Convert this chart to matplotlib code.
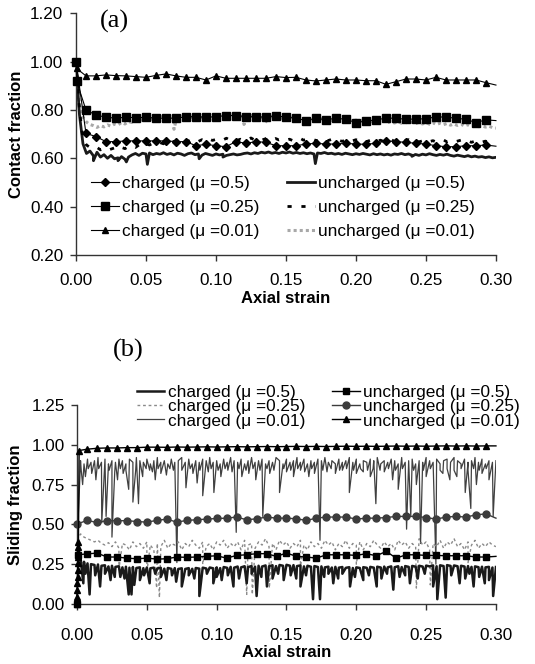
import numpy as np
import matplotlib
matplotlib.use("Agg")
import matplotlib.pyplot as plt

plt.rcParams['font.family'] = ['Liberation Sans', 'DejaVu Sans']

# strain grids
grid = np.linspace(0, 0.3, 121)        # noisy traces, step 0.0025
m_strain = np.linspace(0, 0.3, 43)     # marker traces, step ~0.00714

# ---------------- (a) contact fraction ----------------
a_ch05 = [1.00, 0.703, 0.690, 0.669, 0.669, 0.672, 0.672, 0.672, 0.672, 0.672, 0.669,
          0.669, 0.652, 0.658, 0.652, 0.648, 0.669, 0.662, 0.669, 0.666, 0.652, 0.652,
          0.652, 0.659, 0.662, 0.659, 0.659, 0.662, 0.659, 0.658, 0.662, 0.672, 0.669,
          0.666, 0.662, 0.659, 0.652, 0.648, 0.648, 0.652, 0.652, 0.655, 0.650]
a_ch025_start = [0.0, 0.0004]
a_ch025 = [1.00, 0.92, 0.800, 0.779, 0.770, 0.766, 0.770, 0.768, 0.770, 0.766, 0.766,
           0.766, 0.772, 0.772, 0.770, 0.772, 0.777, 0.777, 0.772, 0.772, 0.770, 0.777,
           0.770, 0.766, 0.756, 0.766, 0.759, 0.766, 0.761, 0.748, 0.754, 0.759, 0.766,
           0.766, 0.761, 0.763, 0.763, 0.772, 0.770, 0.766, 0.761, 0.748, 0.759, 0.756]
a_ch001 = [1.00, 0.972, 0.941, 0.941, 0.945, 0.942, 0.941, 0.938, 0.935, 0.943, 0.949,
           0.941, 0.935, 0.935, 0.924, 0.941, 0.931, 0.931, 0.931, 0.931, 0.931, 0.938,
           0.934, 0.935, 0.924, 0.920, 0.924, 0.928, 0.924, 0.924, 0.921, 0.921, 0.906,
           0.917, 0.928, 0.928, 0.924, 0.935, 0.924, 0.924, 0.924, 0.924, 0.913, 0.903]

a_unc05 = [1.00, 0.78, 0.66, 0.62, 0.63, 0.61, 0.625, 0.605, 0.615, 0.60,
           0.612, 0.598, 0.602, 0.607, 0.596, 0.605, 0.614, 0.62, 0.612, 0.621,
           0.618, 0.622, 0.615, 0.62, 0.617, 0.623, 0.616, 0.62, 0.614, 0.621,
           0.618, 0.612, 0.619, 0.622, 0.615, 0.618, 0.613, 0.62, 0.616, 0.612,
           0.618, 0.614, 0.617, 0.612, 0.615, 0.618, 0.614, 0.616, 0.62, 0.622,
           0.618, 0.623, 0.62, 0.625, 0.622, 0.626, 0.621, 0.624, 0.62, 0.625,
           0.622, 0.626, 0.621, 0.624, 0.62, 0.623, 0.619, 0.622, 0.618, 0.622,
           0.62, 0.624, 0.619, 0.621, 0.617, 0.62, 0.616, 0.621, 0.618, 0.615,
           0.619, 0.616, 0.62, 0.617, 0.614, 0.619, 0.615, 0.618, 0.614, 0.617,
           0.613, 0.618, 0.616, 0.62, 0.615, 0.618, 0.613, 0.616, 0.612, 0.617,
           0.614, 0.619, 0.615, 0.612, 0.616, 0.613, 0.617, 0.612, 0.609, 0.613,
           0.61, 0.607, 0.611, 0.606, 0.609, 0.605, 0.607, 0.603, 0.606, 0.602,
           0.604]
a_unc05_spikes = [(0.0125, 0.59), (0.03, 0.59), (0.036, 0.585), (0.051, 0.575),
                  (0.088, 0.598), (0.105, 0.605), (0.171, 0.578), (0.24, 0.608)]

a_unc025 = [1.00, 0.80, 0.68, 0.655, 0.645, 0.64, 0.645, 0.635, 0.64, 0.632,
            0.638, 0.643, 0.636, 0.645, 0.64, 0.648, 0.652, 0.645, 0.655, 0.65,
            0.66, 0.655, 0.662, 0.658, 0.665, 0.66, 0.668, 0.662, 0.67, 0.665,
            0.672, 0.667, 0.673, 0.668, 0.675, 0.67, 0.677, 0.671, 0.68, 0.674,
            0.678, 0.672, 0.676, 0.683, 0.675, 0.68, 0.674, 0.679, 0.673, 0.678,
            0.684, 0.676, 0.681, 0.675, 0.68, 0.686, 0.677, 0.682, 0.676, 0.68,
            0.675, 0.679, 0.673, 0.678, 0.683, 0.675, 0.679, 0.673, 0.677, 0.671,
            0.676, 0.681, 0.673, 0.678, 0.672, 0.676, 0.67, 0.675, 0.68, 0.672,
            0.677, 0.671, 0.675, 0.669, 0.674, 0.678, 0.67, 0.675, 0.669, 0.673,
            0.678, 0.67, 0.674, 0.668, 0.673, 0.677, 0.67, 0.674, 0.668, 0.672,
            0.677, 0.669, 0.673, 0.667, 0.672, 0.676, 0.668, 0.673, 0.667, 0.671,
            0.675, 0.668, 0.672, 0.666, 0.671, 0.675, 0.667, 0.671, 0.666, 0.67,
            0.668]

a_unc001 = [1.00, 0.82, 0.77, 0.75, 0.74, 0.735, 0.728, 0.735, 0.73, 0.738,
            0.733, 0.742, 0.738, 0.748, 0.742, 0.752, 0.748, 0.758, 0.753, 0.762,
            0.757, 0.766, 0.76, 0.77, 0.765, 0.775, 0.768, 0.778, 0.772, 0.78,
            0.772, 0.768, 0.776, 0.77, 0.765, 0.773, 0.768, 0.762, 0.77, 0.765,
            0.773, 0.767, 0.775, 0.769, 0.776, 0.77, 0.778, 0.771, 0.777, 0.77,
            0.776, 0.769, 0.775, 0.768, 0.774, 0.767, 0.773, 0.766, 0.772, 0.765,
            0.77, 0.764, 0.769, 0.762, 0.768, 0.761, 0.766, 0.76, 0.765, 0.759,
            0.764, 0.758, 0.763, 0.757, 0.762, 0.756, 0.761, 0.755, 0.76, 0.754,
            0.758, 0.752, 0.757, 0.75, 0.756, 0.749, 0.755, 0.748, 0.754, 0.747,
            0.753, 0.746, 0.752, 0.745, 0.751, 0.744, 0.75, 0.743, 0.749, 0.742,
            0.748, 0.741, 0.747, 0.74, 0.745, 0.739, 0.744, 0.737, 0.742, 0.736,
            0.741, 0.734, 0.739, 0.733, 0.737, 0.731, 0.735, 0.729, 0.733, 0.727,
            0.725]
a_unc001_spikes = [(0.07, 0.72), (0.12, 0.74), (0.135, 0.745)]

# ---------------- (b) sliding fraction ----------------
b_ch05 = [0.30, 0.29, 0.265, 0.255, 0.25, 0.245, 0.248, 0.24, 0.243, 0.236,
          0.24, 0.233, 0.237, 0.23, 0.234, 0.228, 0.232, 0.226, 0.23, 0.225,
          0.229, 0.224, 0.228, 0.223, 0.227, 0.222, 0.226, 0.221, 0.225, 0.22,
          0.224, 0.22, 0.225, 0.221, 0.226, 0.222, 0.228, 0.223, 0.229, 0.224,
          0.23, 0.225, 0.232, 0.227, 0.233, 0.228, 0.235, 0.23, 0.237, 0.232,
          0.238, 0.234, 0.24, 0.235, 0.242, 0.237, 0.243, 0.238, 0.245, 0.24,
          0.246, 0.24, 0.244, 0.238, 0.242, 0.236, 0.24, 0.234, 0.238, 0.232,
          0.236, 0.23, 0.234, 0.229, 0.233, 0.228, 0.232, 0.227, 0.231, 0.226,
          0.23, 0.226, 0.231, 0.227, 0.233, 0.228, 0.234, 0.229, 0.235, 0.23,
          0.236, 0.231, 0.237, 0.232, 0.238, 0.233, 0.239, 0.234, 0.24, 0.235,
          0.241, 0.236, 0.242, 0.237, 0.243, 0.238, 0.244, 0.239, 0.242, 0.237,
          0.24, 0.235, 0.238, 0.233, 0.236, 0.231, 0.234, 0.23, 0.233, 0.229,
          0.232]
b_ch05_spikes = [(0.0045, 0.13), (0.006, 0.19), (0.009, 0.06), (0.013, 0.18), (0.0165, 0.11),
                 (0.02, 0.19), (0.024, 0.15), (0.027, 0.17), (0.031, 0.17), (0.034, 0.16),
                 (0.037, 0.06), (0.039, 0.06), (0.041, 0.12), (0.045, 0.15), (0.048, 0.18),
                 (0.052, 0.13), (0.056, 0.19), (0.06, 0.17), (0.064, 0.15), (0.068, 0.18),
                 (0.071, 0.14), (0.075, 0.11), (0.08, 0.18), (0.084, 0.16), (0.0876, 0.05),
                 (0.093, 0.19), (0.0976, 0.13), (0.1, 0.17), (0.1036, 0.15), (0.108, 0.18),
                 (0.112, 0.11), (0.116, 0.16), (0.1215, 0.13), (0.125, 0.19), (0.1286, 0.05),
                 (0.132, 0.17), (0.136, 0.11), (0.14, 0.16), (0.144, 0.19), (0.148, 0.15),
                 (0.153, 0.18), (0.157, 0.16), (0.16, 0.11), (0.164, 0.18), (0.169, 0.03),
                 (0.174, 0.03), (0.177, 0.17), (0.18, 0.19), (0.1835, 0.13), (0.187, 0.16),
                 (0.19, 0.19), (0.1955, 0.11), (0.199, 0.17), (0.205, 0.15), (0.209, 0.18),
                 (0.2146, 0.11), (0.218, 0.16), (0.222, 0.19), (0.2265, 0.09), (0.231, 0.17),
                 (0.235, 0.18), (0.2384, 0.13), (0.244, 0.16), (0.249, 0.19), (0.255, 0.11),
                 (0.258, 0.03), (0.264, 0.04), (0.268, 0.18), (0.274, 0.13), (0.278, 0.16),
                 (0.281, 0.19), (0.284, 0.11), (0.288, 0.17), (0.292, 0.13), (0.295, 0.15),
                 (0.298, 0.05)]

b_ch025 = [0.40, 0.44, 0.42, 0.41, 0.40, 0.39, 0.40, 0.38, 0.37, 0.385,
           0.36, 0.39, 0.35, 0.38, 0.37, 0.34, 0.39, 0.36, 0.38, 0.35,
           0.39, 0.37, 0.34, 0.38, 0.36, 0.40, 0.35, 0.38, 0.37, 0.39,
           0.34, 0.38, 0.36, 0.40, 0.37, 0.35, 0.39, 0.36, 0.38, 0.34,
           0.39, 0.37, 0.40, 0.35, 0.38, 0.36, 0.39, 0.34, 0.40, 0.37,
           0.38, 0.35, 0.39, 0.37, 0.41, 0.36, 0.38, 0.34, 0.40, 0.37,
           0.39, 0.35, 0.38, 0.36, 0.40, 0.37, 0.34, 0.39, 0.36, 0.38,
           0.35, 0.40, 0.37, 0.39, 0.34, 0.38, 0.36, 0.40, 0.35, 0.38,
           0.37, 0.39, 0.34, 0.38, 0.36, 0.40, 0.37, 0.35, 0.39, 0.36,
           0.38, 0.34, 0.40, 0.37, 0.39, 0.35, 0.38, 0.36, 0.41, 0.37,
           0.39, 0.34, 0.38, 0.36, 0.40, 0.35, 0.39, 0.37, 0.41, 0.36,
           0.38, 0.34, 0.39, 0.37, 0.40, 0.35, 0.38, 0.36, 0.39, 0.37,
           0.36]
b_ch025_spikes = [(0.03, 0.22), (0.05, 0.20), (0.057, 0.10), (0.059, 0.04), (0.09, 0.25),
                  (0.1215, 0.06), (0.1255, 0.06), (0.1377, 0.10), (0.16, 0.24), (0.2, 0.25),
                  (0.243, 0.10), (0.253, 0.12), (0.28, 0.26)]

b_ch001 = [0.38, 0.90, 0.88, 0.91, 0.89, 0.90, 0.92, 0.89, 0.91, 0.88,
           0.90, 0.89, 0.91, 0.90, 0.88, 0.91, 0.89, 0.92, 0.90, 0.89,
           0.91, 0.88, 0.90, 0.92, 0.89, 0.90, 0.88, 0.91, 0.89, 0.90,
           0.92, 0.89, 0.91, 0.88, 0.90, 0.89, 0.91, 0.90, 0.92, 0.89,
           0.90, 0.88, 0.91, 0.89, 0.92, 0.90, 0.89, 0.91, 0.88, 0.90,
           0.92, 0.89, 0.90, 0.91, 0.88, 0.90, 0.89, 0.92, 0.90, 0.88,
           0.91, 0.89, 0.90, 0.92, 0.89, 0.91, 0.88, 0.90, 0.89, 0.91,
           0.90, 0.92, 0.89, 0.90, 0.88, 0.91, 0.89, 0.90, 0.92, 0.89,
           0.91, 0.88, 0.90, 0.89, 0.91, 0.90, 0.92, 0.88, 0.90, 0.89,
           0.91, 0.90, 0.88, 0.92, 0.89, 0.90, 0.91, 0.88, 0.90, 0.89,
           0.92, 0.90, 0.89, 0.91, 0.88, 0.90, 0.91, 0.89, 0.92, 0.90,
           0.88, 0.91, 0.89, 0.90, 0.92, 0.89, 0.91, 0.88, 0.90, 0.89,
           0.90]
b_ch001_spikes = [(0.0015, 0.68), (0.003, 0.84), (0.004, 0.75), (0.006, 0.80), (0.008, 0.85),
                  (0.0105, 0.82), (0.0135, 0.78), (0.0155, 0.85), (0.0177, 0.51), (0.0208, 0.55),
                  (0.023, 0.84), (0.025, 0.42), (0.027, 0.83), (0.029, 0.78), (0.031, 0.85),
                  (0.033, 0.82), (0.035, 0.84), (0.037, 0.72), (0.040, 0.64), (0.042, 0.84),
                  (0.044, 0.63), (0.047, 0.80), (0.0495, 0.85), (0.052, 0.84), (0.054, 0.83),
                  (0.056, 0.78), (0.058, 0.85), (0.060, 0.82), (0.064, 0.81), (0.0665, 0.85),
                  (0.069, 0.84), (0.0715, 0.26), (0.075, 0.84), (0.078, 0.73), (0.081, 0.85),
                  (0.083, 0.82), (0.086, 0.76), (0.088, 0.84), (0.090, 0.68), (0.094, 0.83),
                  (0.096, 0.85), (0.098, 0.70), (0.101, 0.84), (0.103, 0.80), (0.106, 0.85),
                  (0.108, 0.84), (0.111, 0.83), (0.114, 0.45), (0.116, 0.85), (0.118, 0.80),
                  (0.121, 0.84), (0.123, 0.82), (0.126, 0.85), (0.128, 0.78), (0.131, 0.84),
                  (0.133, 0.55), (0.136, 0.85), (0.138, 0.82), (0.141, 0.84), (0.145, 0.70),
                  (0.148, 0.85), (0.150, 0.83), (0.153, 0.84), (0.155, 0.80), (0.158, 0.85),
                  (0.160, 0.84), (0.163, 0.83), (0.166, 0.80), (0.168, 0.85), (0.170, 0.82),
                  (0.174, 0.40), (0.176, 0.84), (0.179, 0.83), (0.182, 0.85), (0.185, 0.82),
                  (0.188, 0.84), (0.190, 0.84), (0.193, 0.85), (0.195, 0.70), (0.198, 0.84),
                  (0.200, 0.82), (0.203, 0.85), (0.205, 0.83), (0.208, 0.84), (0.210, 0.80),
                  (0.212, 0.85), (0.214, 0.63), (0.217, 0.84), (0.220, 0.83), (0.223, 0.85),
                  (0.226, 0.78), (0.228, 0.84), (0.230, 0.72), (0.233, 0.85), (0.236, 0.47),
                  (0.239, 0.55), (0.241, 0.84), (0.243, 0.75), (0.246, 0.38), (0.248, 0.84),
                  (0.250, 0.80), (0.253, 0.85), (0.257, 0.25), (0.260, 0.84), (0.262, 0.82),
                  (0.265, 0.85), (0.267, 0.78), (0.270, 0.84), (0.272, 0.80), (0.275, 0.85),
                  (0.278, 0.70), (0.280, 0.84), (0.282, 0.60), (0.284, 0.85), (0.286, 0.75),
                  (0.288, 0.84), (0.290, 0.82), (0.293, 0.85), (0.295, 0.78), (0.298, 0.55)]

b_unc05_start = [0.0, 0.0006]
b_unc05 = [0.0, 0.31, 0.314, 0.320, 0.295, 0.295, 0.288, 0.284, 0.288, 0.282, 0.284,
           0.295, 0.293, 0.295, 0.299, 0.303, 0.288, 0.305, 0.309, 0.316, 0.316, 0.299,
           0.320, 0.299, 0.295, 0.288, 0.309, 0.309, 0.309, 0.305, 0.316, 0.303, 0.330,
           0.288, 0.309, 0.309, 0.305, 0.305, 0.303, 0.303, 0.303, 0.295, 0.295, 0.299]
b_unc025 = [0.502, 0.525, 0.512, 0.523, 0.523, 0.523, 0.518, 0.514, 0.525, 0.533, 0.514,
            0.525, 0.529, 0.533, 0.537, 0.539, 0.546, 0.529, 0.535, 0.546, 0.539, 0.539,
            0.535, 0.525, 0.539, 0.546, 0.546, 0.546, 0.533, 0.539, 0.539, 0.543, 0.550,
            0.550, 0.550, 0.543, 0.533, 0.546, 0.550, 0.546, 0.560, 0.566, 0.539]
b_unc001_early_strain = [0.0, 0.0001, 0.0002, 0.0003, 0.0004, 0.0005,
                         0.0006, 0.0007, 0.0008, 0.0009, 0.001, 0.0015]
b_unc001_early = [0.0, 0.044, 0.088, 0.132, 0.17, 0.214, 0.258, 0.296, 0.327, 0.358,
                  0.389, 0.964]
b_unc001 = [0.972, 0.978, 0.98, 0.98, 0.982, 0.982, 0.985, 0.985, 0.984, 0.986, 0.985,
            0.986, 0.987, 0.986, 0.987, 0.988, 0.987, 0.988, 0.989, 0.988, 0.989, 0.99,
            0.989, 0.99, 0.989, 0.99, 0.991, 0.99, 0.991, 0.99, 0.991, 0.992, 0.991,
            0.992, 0.991, 0.992, 0.993, 0.992, 0.993, 0.992, 0.993, 0.993]

labels_ch = ["charged (\u03bc =0.5)", "charged (\u03bc =0.25)", "charged (\u03bc =0.01)"]
labels_unc = ["uncharged (\u03bc =0.5)", "uncharged (\u03bc =0.25)", "uncharged (\u03bc =0.01)"]


def with_spikes(base, spikes):
    s = np.concatenate([grid, [p[0] for p in spikes]])
    v = np.concatenate([base, [p[1] for p in spikes]])
    order = np.argsort(s, kind="stable")
    return s[order], v[order]


def style_axis(ax, ylim, yticks, xpad):
    ax.set_xlim(0, 0.3)
    ax.set_ylim(*ylim)
    ax.set_xticks(np.arange(0, 0.301, 0.05))
    ax.set_yticks(yticks)
    ax.xaxis.set_major_formatter(matplotlib.ticker.FormatStrFormatter("%.2f"))
    ax.yaxis.set_major_formatter(matplotlib.ticker.FormatStrFormatter("%.2f"))
    for side in ["top", "right"]:
        ax.spines[side].set_visible(False)
    for side in ["left", "bottom"]:
        ax.spines[side].set_linewidth(1.0)
        ax.spines[side].set_color("#333333")
    ax.tick_params(direction="out", length=4, width=1, labelsize=12.3, color="#333333")
    ax.tick_params(axis="y", pad=5)
    ax.tick_params(axis="x", pad=xpad)
    ax.set_xlabel("Axial strain", fontsize=12, fontweight="bold")


fig = plt.figure(figsize=(5.35, 6.64), dpi=100)

# ---------- panel (a) ----------
ax1 = fig.add_axes([0.142, 0.616, 0.785, 0.364])
sq_strain = np.concatenate([a_ch025_start, m_strain[1:]])
tri_strain = sq_strain

s, v = with_spikes(a_unc001, a_unc001_spikes)
l6, = ax1.plot(s, v, color="#a8a8a8", lw=2.2, ls=(0, (1, 1)), zorder=1)
s, v = with_spikes(a_unc05, a_unc05_spikes)
l4, = ax1.plot(s, v, color="#1a1a1a", lw=2.0, zorder=2)
l5, = ax1.plot(grid, a_unc025, color="black", lw=2.0, ls=(0, (1.5, 3.5)), zorder=2.5)

l1, = ax1.plot(m_strain, a_ch05, color="black", lw=0.8, marker="D", ms=4,
               markevery=slice(0, len(a_ch05) - 1), zorder=3, clip_on=False)
l2, = ax1.plot(sq_strain, a_ch025, color="black", lw=0.8, marker="s", ms=5.5,
               markevery=slice(0, len(a_ch025) - 1), zorder=3, clip_on=False)
l3, = ax1.plot(tri_strain, a_ch001, color="black", lw=0.8, marker="^", ms=5,
               markevery=slice(0, len(a_ch001) - 1), zorder=3, clip_on=False)

style_axis(ax1, (0.2, 1.2), np.arange(0.2, 1.201, 0.2), xpad=9)
ax1.set_ylabel("Contact fraction", fontsize=12, fontweight="bold")
ax1.yaxis.set_label_coords(-0.124, 0.5)
ax1.xaxis.set_label_coords(0.5, -0.147)

ax1.legend([l1, l2, l3, l4, l5, l6], labels_ch + labels_unc, ncol=2, frameon=False,
           fontsize=12.4, loc="upper left", bbox_to_anchor=(0.036, 0.328),
           borderpad=0, borderaxespad=0, handlelength=1.6, handletextpad=0.2,
           columnspacing=1.6, labelspacing=0.52)

# ---------- panel (b) ----------
ax2 = fig.add_axes([0.144, 0.0904, 0.783, 0.2997])
sqb_strain = np.concatenate([b_unc05_start, m_strain[1:]])
trib_strain = np.concatenate([b_unc001_early_strain, m_strain[1:]])
trib = b_unc001_early + b_unc001

s, v = with_spikes(b_ch001, b_ch001_spikes)
k3, = ax2.plot(s, v, color="#404040", lw=0.9, zorder=1)
s, v = with_spikes(b_ch025, b_ch025_spikes)
k2, = ax2.plot(s, v, color="#8a8a8a", lw=1.0, ls=(0, (2, 2)), zorder=1.5)
s, v = with_spikes(b_ch05, b_ch05_spikes)
k1, = ax2.plot(s, v, color="#1a1a1a", lw=1.8, zorder=2)

k4, = ax2.plot(sqb_strain, b_unc05, color="black", lw=1.0, marker="s", ms=5,
               markevery=slice(0, len(b_unc05) - 1), zorder=3, clip_on=False)
k5, = ax2.plot(m_strain, b_unc025, color="#3c3c3c", lw=1.0, marker="o", ms=5,
               markevery=slice(0, len(b_unc025) - 1), zorder=3, clip_on=False)
k6, = ax2.plot(trib_strain, trib, color="black", lw=1.0, marker="^", ms=4.8,
               markevery=slice(0, len(trib) - 1), zorder=3, clip_on=False)

style_axis(ax2, (0.0, 1.25), np.arange(0.0, 1.251, 0.25), xpad=13)
ax2.set_ylabel("Sliding fraction", fontsize=12, fontweight="bold")
ax2.yaxis.set_label_coords(-0.129, 0.5)
ax2.xaxis.set_label_coords(0.5, -0.205)

ax2.legend([k1, k2, k3, k4, k5, k6], labels_ch + labels_unc, ncol=2, frameon=False,
           fontsize=12.4, loc="upper left", bbox_to_anchor=(0.143, 1.1),
           borderpad=0, borderaxespad=0, handlelength=1.6, handletextpad=0.2,
           columnspacing=1.55, labelspacing=-0.05)

fig.text(100 / 535, 1 - 21 / 664, "(a)", fontsize=19, family="Liberation Serif",
         va="center", ha="left")
fig.text(113 / 535, 1 - 350 / 664, "(b)", fontsize=19, family="Liberation Serif",
         va="center", ha="left")

fig.savefig("out.png", dpi=100)
